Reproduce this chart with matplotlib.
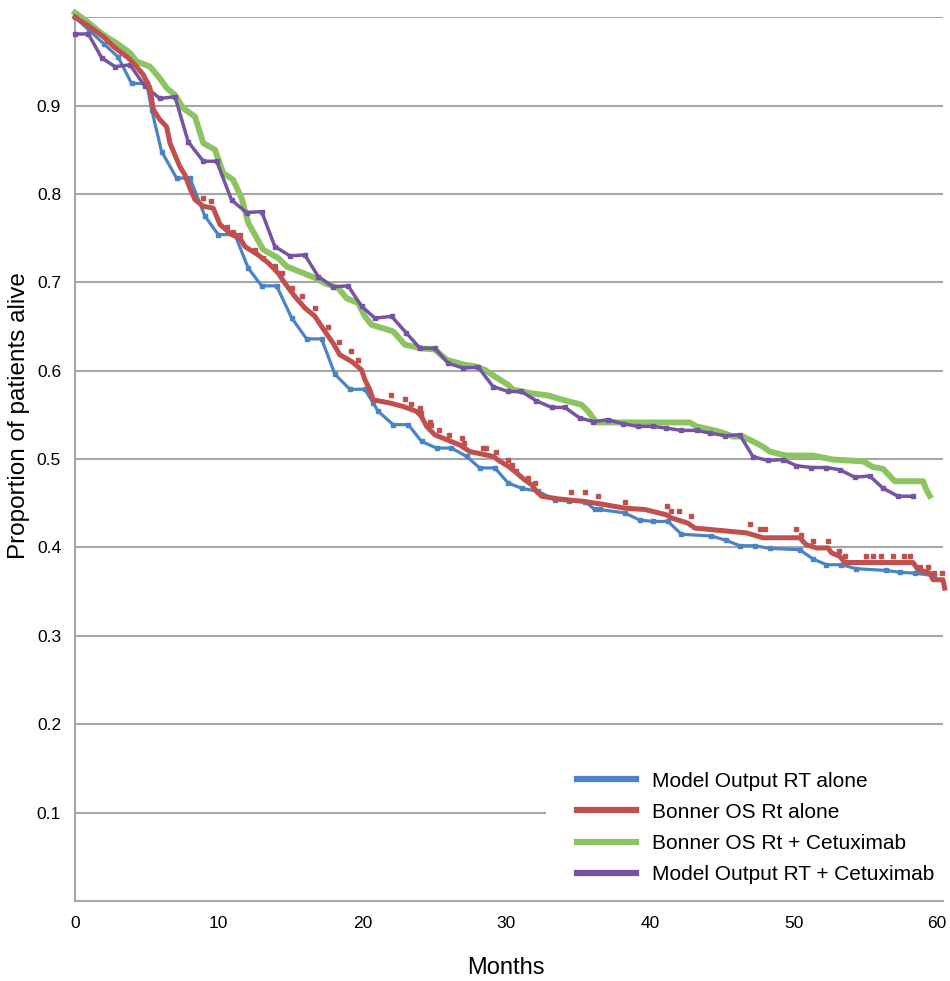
#!/usr/bin/env python3
"""Overall survival: model output vs Bonner trial curves."""

import matplotlib
matplotlib.use("Agg")
import matplotlib.pyplot as plt

# Model Output RT alone
rt_model_months = [0, 1, 2, 3, 3.94, 5.0, 5.34, 6.03, 7.07, 8.0, 9.04, 9.97, 11.13, 12.06,
                   12.99, 14.03, 15.07, 16.12, 17.16, 18.09, 19.13, 20.17, 20.75, 21.1, 22.14,
                   23.19, 24.12, 25.16, 26.2, 27.25, 28.17, 29.22, 30.14, 31.08, 32.23, 33.4,
                   34.4, 35.48, 36.17, 36.52, 38.26, 39.3, 40.23, 41.27, 42.2, 44.29, 45.33,
                   46.26, 47.3, 48.35, 50.43, 51.36, 52.29, 53.33, 54.38, 56.47, 57.39, 58.43,
                   59.8]
rt_model_alive = [1.0, 0.985, 0.97, 0.955, 0.925, 0.925, 0.895, 0.848, 0.818, 0.818, 0.775,
                  0.754, 0.754, 0.716, 0.696, 0.696, 0.66, 0.636, 0.636, 0.596, 0.579, 0.579,
                  0.5635, 0.554, 0.539, 0.539, 0.52, 0.5125, 0.5125, 0.503, 0.49, 0.49, 0.473,
                  0.467, 0.4635, 0.454, 0.4525, 0.452, 0.443, 0.443, 0.439, 0.431, 0.4295,
                  0.4295, 0.415, 0.413, 0.408, 0.402, 0.402, 0.399, 0.3975, 0.387, 0.3805,
                  0.3805, 0.376, 0.374, 0.372, 0.371, 0.368]

# Bonner OS Rt alone
rt_bonner_months = [0, 1.04, 1.97, 2.67, 3.25, 3.71, 4.29, 4.75, 5.22, 5.45, 5.91, 6.38, 6.61,
                    6.96, 7.3, 7.65, 8.0, 8.35, 8.93, 9.62, 10.09, 10.9, 11.48, 11.83, 12.75,
                    13.45, 14.14, 14.61, 15.3, 16.0, 16.7, 17.39, 17.97, 18.43, 19.25, 19.94,
                    20.17, 20.52, 20.75, 21.91, 22.84, 23.77, 24.12, 24.47, 25.04, 25.86, 26.78,
                    27.48, 28.52, 29.1, 29.57, 30.14, 30.61, 31.3, 31.77, 32.12, 32.47, 33.63,
                    35.48, 36.87, 38.26, 39.65, 41.16, 41.5, 42.66, 43.13, 46.73, 47.88, 50.43,
                    50.9, 51.6, 52.4, 52.64, 53.22, 53.57, 58.32, 58.67, 59.48, 59.71, 60.4,
                    60.52]
rt_bonner_alive = [1.0, 0.989, 0.978, 0.967, 0.9595, 0.954, 0.944, 0.935, 0.92, 0.8955, 0.884,
                   0.876, 0.8575, 0.844, 0.831, 0.8215, 0.8065, 0.7935, 0.786, 0.784, 0.7655,
                   0.754, 0.75, 0.7405, 0.731, 0.722, 0.7105, 0.699, 0.684, 0.671, 0.6615,
                   0.6445, 0.631, 0.618, 0.6105, 0.601, 0.59, 0.5785, 0.567, 0.5635, 0.5595,
                   0.554, 0.548, 0.537, 0.5275, 0.522, 0.516, 0.5085, 0.505, 0.503, 0.4975,
                   0.492, 0.486, 0.4765, 0.471, 0.4635, 0.458, 0.455, 0.452, 0.4485, 0.4445,
                   0.443, 0.437, 0.4335, 0.4275, 0.422, 0.4165, 0.411, 0.411, 0.403, 0.3995,
                   0.3995, 0.394, 0.39, 0.383, 0.383, 0.375, 0.371, 0.3635, 0.3635, 0.354]

# scattered Bonner RT-alone points off the main curve
rt_bonner_dot_months = [8.9, 9.5, 10.55, 11.0, 11.5, 12.5, 13.1, 13.9, 14.4, 15.1, 15.8, 16.7,
                        17.6, 18.4, 19.2, 19.7, 22.0, 22.96, 23.4, 24.0, 24.1, 24.7, 24.8, 25.3,
                        26.0, 26.9, 27.1, 28.4, 28.6, 29.3, 30.1, 30.4, 30.7, 31.5, 32.0, 34.55,
                        35.5, 36.4, 38.3, 41.2, 41.5, 42.0, 42.9, 47.0, 47.65, 48.0, 50.2, 50.55,
                        51.36, 52.4, 53.2, 53.6, 55.07, 55.5, 56.1, 56.9, 57.7, 58.1, 58.8,
                        59.36, 59.8, 60.3]
rt_bonner_dot_alive = [0.795, 0.792, 0.763, 0.7575, 0.754, 0.737, 0.7275, 0.718, 0.7105, 0.6935,
                       0.684, 0.671, 0.65, 0.633, 0.622, 0.6125, 0.573, 0.568, 0.5625, 0.558,
                       0.552, 0.5425, 0.539, 0.533, 0.5275, 0.524, 0.518, 0.513, 0.513, 0.5075,
                       0.4995, 0.4935, 0.486, 0.4785, 0.473, 0.4625, 0.4625, 0.458, 0.452,
                       0.4465, 0.4415, 0.4415, 0.436, 0.4265, 0.421, 0.421, 0.421, 0.4145,
                       0.4075, 0.4075, 0.3965, 0.3905, 0.3905, 0.3905, 0.3905, 0.3905, 0.3905,
                       0.3905, 0.378, 0.378, 0.371, 0.371]

# Bonner OS Rt + Cetuximab
cetux_bonner_months = [0, 0.81, 1.97, 2.9, 3.83, 4.29, 5.22, 5.8, 6.38, 6.96, 7.53, 8.35, 8.93,
                       9.74, 10.32, 11.01, 11.6, 12.06, 12.52, 13.1, 14.14, 14.73, 15.88, 16.7,
                       17.39, 18.32, 18.9, 19.71, 20.17, 20.64, 22.14, 22.96, 24.0, 25.04, 25.86,
                       27.01, 27.83, 28.52, 29.22, 30.14, 30.49, 31.54, 32.93, 33.97, 35.25,
                       35.71, 36.29, 37.1, 42.78, 43.25, 44.87, 45.8, 46.5, 47.42, 47.88, 48.35,
                       49.5, 51.36, 52.75, 54.84, 55.53, 56.23, 57.04, 59.01, 59.24, 59.48]
cetux_bonner_alive = [1.005, 0.9955, 0.98, 0.9705, 0.9595, 0.95, 0.944, 0.933, 0.92, 0.912,
                      0.897, 0.8875, 0.8575, 0.85, 0.8235, 0.816, 0.795, 0.767, 0.754, 0.737,
                      0.7275, 0.718, 0.7105, 0.705, 0.699, 0.6935, 0.682, 0.6765, 0.6615, 0.652,
                      0.6445, 0.6295, 0.6255, 0.624, 0.6125, 0.607, 0.605, 0.601, 0.5935, 0.584,
                      0.5785, 0.575, 0.572, 0.567, 0.5615, 0.554, 0.5415, 0.5415, 0.5415, 0.537,
                      0.531, 0.5255, 0.5255, 0.518, 0.514, 0.5085, 0.504, 0.504, 0.4995, 0.4975,
                      0.491, 0.489, 0.475, 0.475, 0.4655, 0.4585]

# Model Output RT + Cetuximab
cetux_model_months = [0, 0.93, 1.86, 2.78, 3.83, 4.87, 5.91, 6.96, 7.88, 8.93, 9.86, 10.9,
                      11.94, 12.99, 13.91, 14.96, 16.0, 16.93, 17.97, 19.01, 19.94, 20.87, 22.03,
                      23.07, 24.0, 25.04, 25.97, 27.01, 28.06, 29.1, 30.14, 31.07, 32.1, 33.16,
                      34.09, 35.13, 36.06, 37.1, 38.14, 39.19, 40.23, 41.16, 42.2, 43.25, 44.17,
                      45.22, 46.26, 47.19, 48.23, 49.27, 50.2, 51.25, 52.29, 53.22, 54.26, 55.3,
                      56.23, 57.27, 58.32]
cetux_model_alive = [0.981, 0.981, 0.954, 0.944, 0.946, 0.922, 0.908, 0.91, 0.859, 0.837,
                     0.837, 0.793, 0.779, 0.78, 0.7405, 0.73, 0.731, 0.7065, 0.695, 0.696,
                     0.673, 0.6595, 0.6615, 0.6425, 0.6255, 0.6255, 0.6085, 0.603, 0.604, 0.582,
                     0.5765, 0.5765, 0.566, 0.5585, 0.5585, 0.5465, 0.5425, 0.5445, 0.54, 0.537,
                     0.537, 0.535, 0.5325, 0.5325, 0.5295, 0.5265, 0.5275, 0.5025, 0.4985,
                     0.4995, 0.4925, 0.4905, 0.4905, 0.488, 0.4795, 0.481, 0.467, 0.458, 0.458]

y_ticks = [0.1, 0.2, 0.3, 0.4, 0.5, 0.6, 0.7, 0.8, 0.9]
grid_levels = [0.2, 0.3, 0.4, 0.5, 0.6, 0.7, 0.8, 0.9, 1.0]
x_ticks = [0, 10, 20, 30, 40, 50, 60]

BLUE = "#4A84C4"
RED = "#C0504D"
GREEN = "#8DC462"
PURPLE = "#7554A3"
GRID = "#A6A6A6"

plt.rcParams["font.family"] = ["Liberation Sans", "DejaVu Sans"]

fig = plt.figure(figsize=(9.5, 9.81), dpi=100)
ax = fig.add_axes([0.0789, 0.0815, 0.9137, 0.901])

for lvl in grid_levels:
    ax.axhline(lvl, color=GRID, lw=1.5, zorder=1)
# the 0.1 line stops where the legend box begins
ax.axhline(0.1, xmax=0.541, color=GRID, lw=1.5, zorder=1)

ax.plot(rt_model_months, rt_model_alive, color=BLUE, lw=2.3, marker="s", ms=2.2,
        label="Model Output RT alone", zorder=3, clip_on=False)
ax.plot(rt_bonner_months, rt_bonner_alive, color=RED, lw=3.6,
        label="Bonner OS Rt alone", zorder=4, clip_on=False)
ax.plot(rt_bonner_dot_months, rt_bonner_dot_alive, ls="none", color=RED, marker="s", ms=3.2,
        zorder=4, clip_on=False)
ax.plot(cetux_bonner_months, cetux_bonner_alive, color=GREEN, lw=4.3,
        label="Bonner OS Rt + Cetuximab", zorder=2.5, clip_on=False)
ax.plot(cetux_model_months, cetux_model_alive, color=PURPLE, lw=2.5, marker="s", ms=2.6,
        label="Model Output RT + Cetuximab", zorder=3.5, clip_on=False)

ax.set_xlim(0, 60.4)
ax.set_ylim(0, 1.0)
ax.set_xticks(x_ticks)
ax.set_yticks(y_ticks)
ax.tick_params(length=0, labelsize=12.5)
ax.tick_params(axis="x", pad=11)
ax.tick_params(axis="y", pad=10)

for side in ("top", "right"):
    ax.spines[side].set_visible(False)
for side in ("left", "bottom"):
    ax.spines[side].set_color(GRID)
    ax.spines[side].set_linewidth(1.5)

fig.text(506 / 950, 1 - 968 / 981, "Months", ha="center", va="center", fontsize=17)
fig.text(19 / 950, 1 - 416 / 981, "Proportion of patients alive", ha="center",
         va="center", rotation=90, fontsize=17.5)

leg = ax.legend(loc="lower right", bbox_to_anchor=(1.0, 0.01), fontsize=15, frameon=False,
                handlelength=2.8, handletextpad=0.8, labelspacing=0.58, borderpad=0.4,
                borderaxespad=0)
for line in leg.get_lines():
    line.set_linewidth(4.5)
    line.set_marker("")

fig.savefig("out.png", dpi=100)
